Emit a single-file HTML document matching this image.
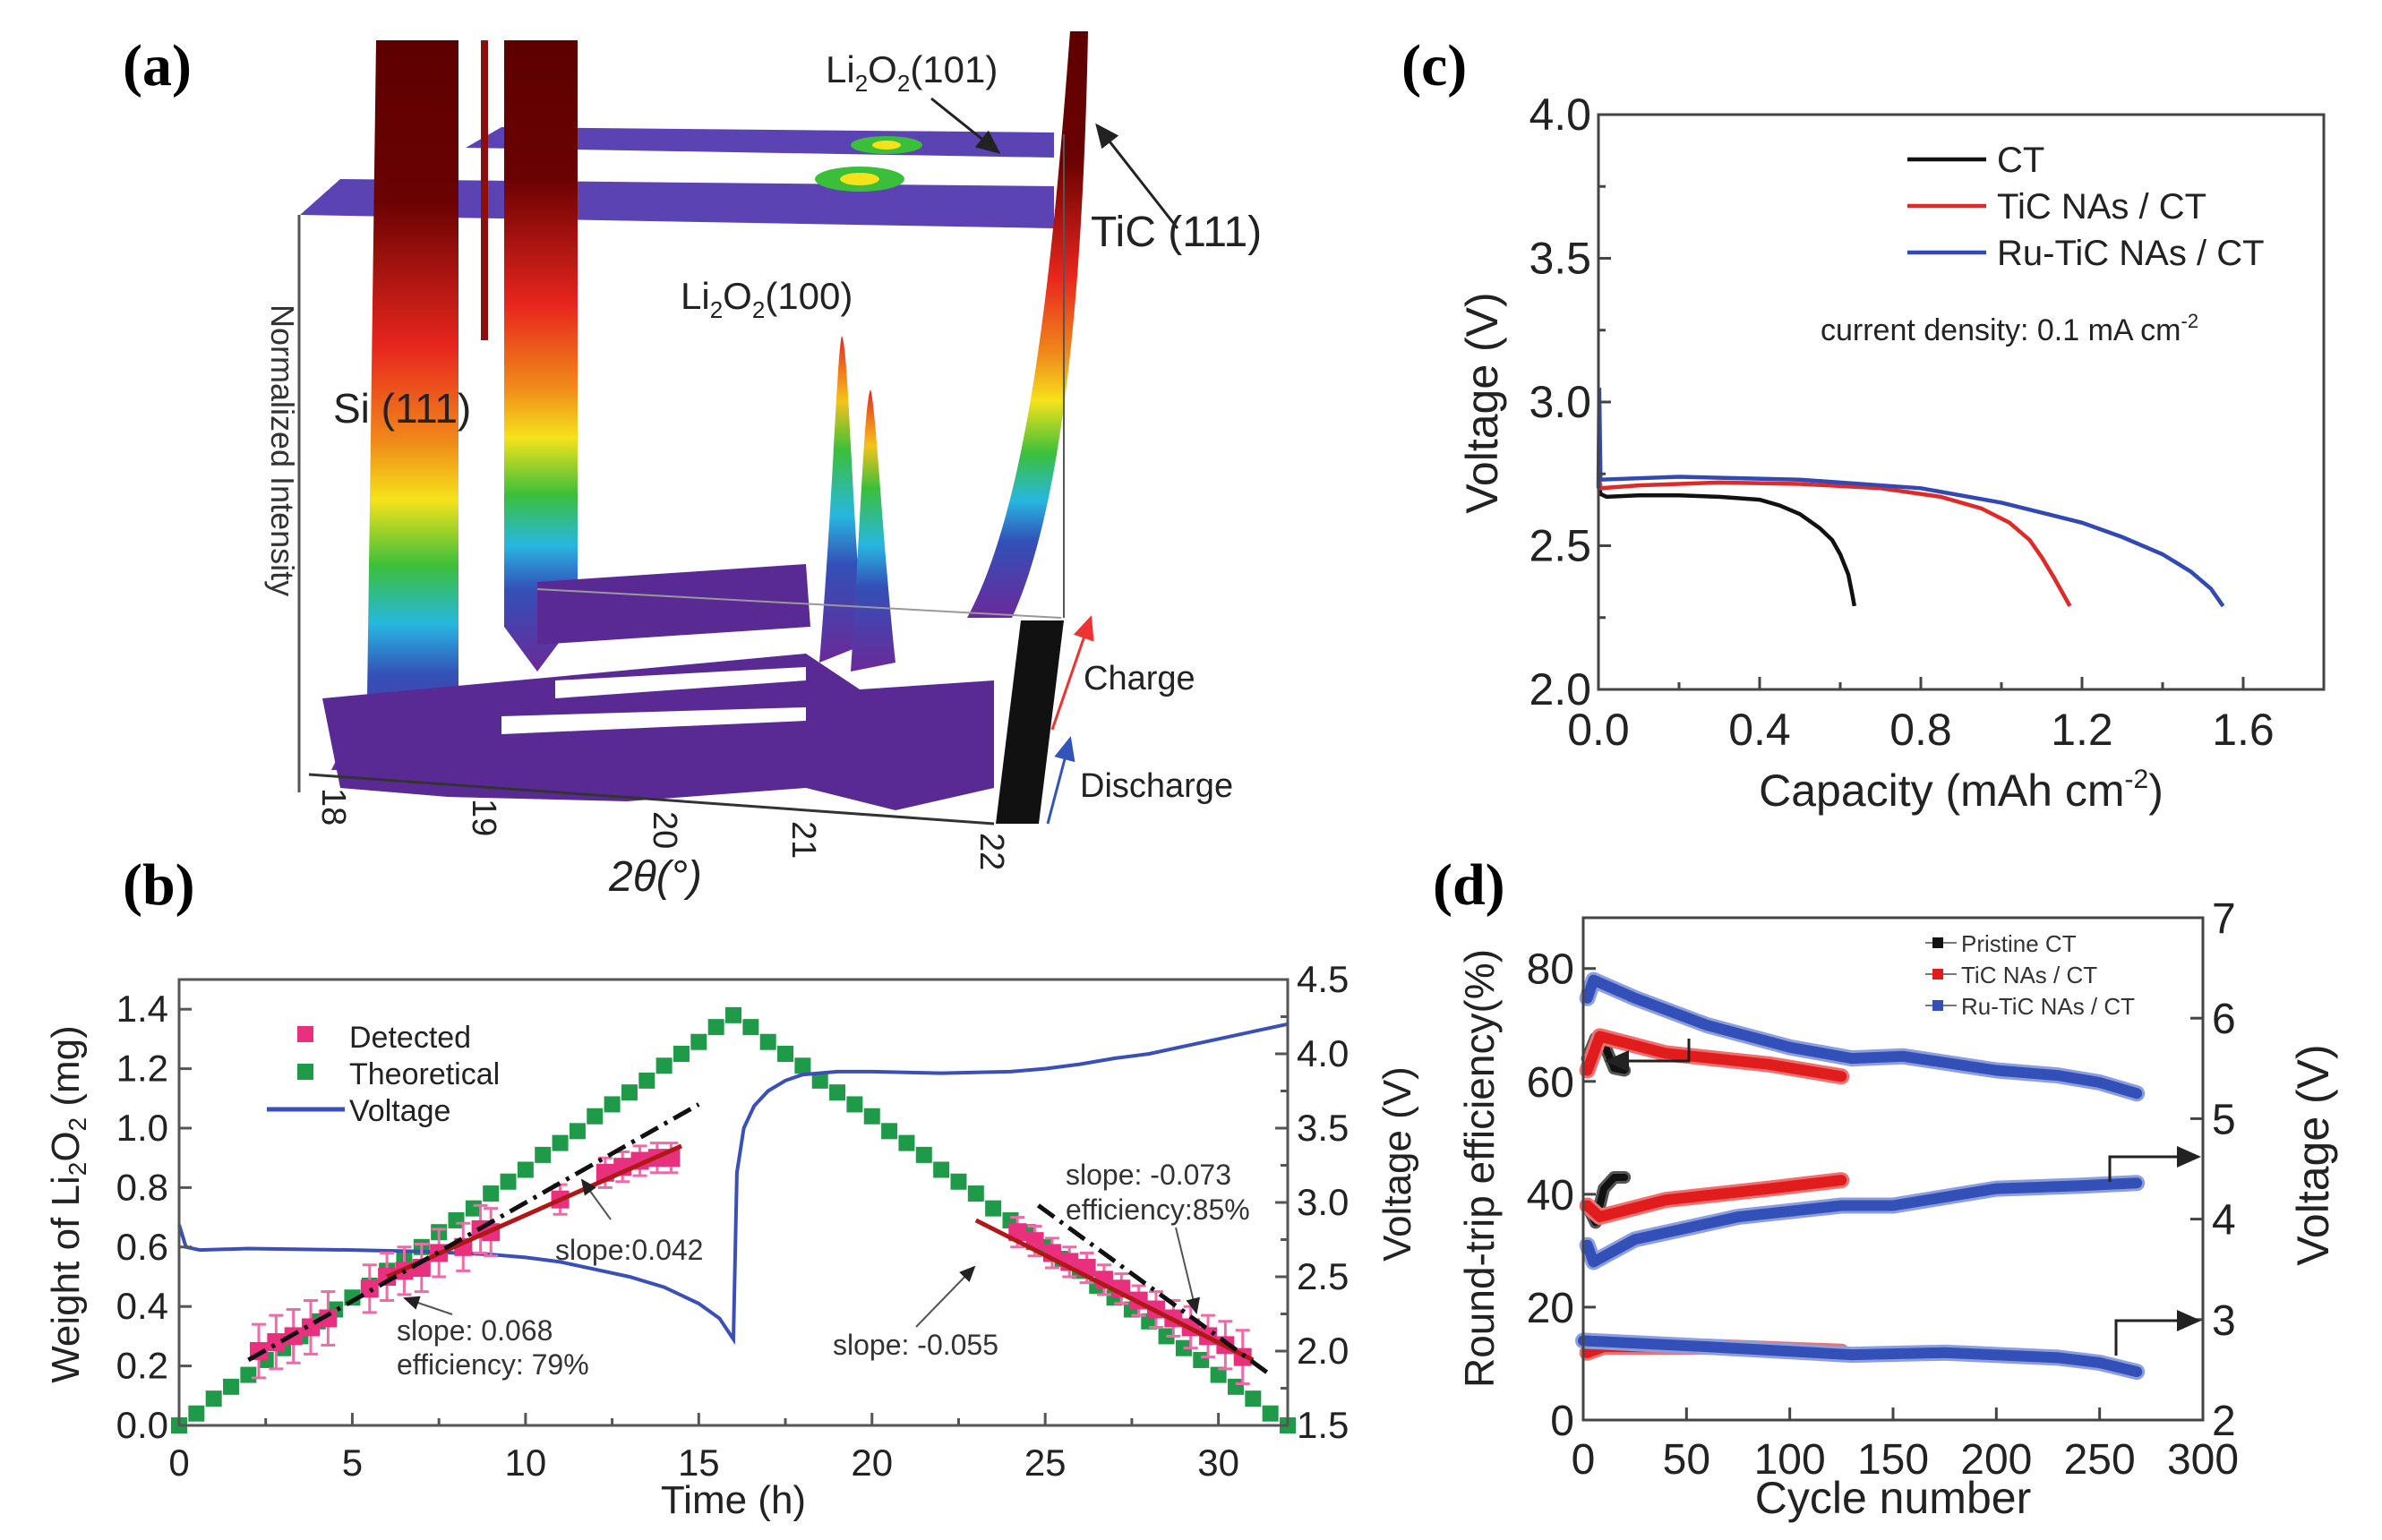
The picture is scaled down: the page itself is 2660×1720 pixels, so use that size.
<!DOCTYPE html>
<html><head><meta charset="utf-8"><style>
html,body{margin:0;padding:0;background:#fff;}
svg{display:block;font-family:"Liberation Sans",sans-serif;}
</style></head><body>
<svg id="fig" width="2660" height="1720" viewBox="0 0 2660 1720" xmlns="http://www.w3.org/2000/svg">
<defs>
<linearGradient id="rainbow" x1="0" y1="0" x2="0" y2="1">
<stop offset="0" stop-color="#5e0000"/><stop offset="0.22" stop-color="#6a0202"/>
<stop offset="0.42" stop-color="#e8261e"/><stop offset="0.55" stop-color="#f08a1a"/>
<stop offset="0.63" stop-color="#f5e21a"/><stop offset="0.72" stop-color="#3bbf3a"/>
<stop offset="0.8" stop-color="#27b7e0"/><stop offset="0.87" stop-color="#3350b8"/>
<stop offset="1" stop-color="#6a2a9a"/></linearGradient>
<linearGradient id="peak" x1="0" y1="0" x2="0" y2="1">
<stop offset="0" stop-color="#e8261e"/><stop offset="0.2" stop-color="#f5c21a"/>
<stop offset="0.35" stop-color="#3bbf3a"/><stop offset="0.55" stop-color="#27b7e0"/>
<stop offset="0.7" stop-color="#3350b8"/><stop offset="1" stop-color="#6a2a9a"/></linearGradient>
<marker id="ah" markerWidth="10" markerHeight="10" refX="8" refY="5" orient="auto"><path d="M0,1 L9,5 L0,9 z" fill="#222"/></marker>
<marker id="ahr" markerWidth="10" markerHeight="10" refX="8" refY="5" orient="auto"><path d="M0,1 L9,5 L0,9 z" fill="#e33"/></marker>
<marker id="ahb" markerWidth="10" markerHeight="10" refX="8" refY="5" orient="auto"><path d="M0,1 L9,5 L0,9 z" fill="#35b"/></marker>
</defs>

<!-- Panel (a) -->
<g id="panelA">
<text x="137" y="95" font-family="Liberation Serif,serif" font-weight="bold" font-size="66">(a)</text>
<polygon points="335,240 380,200 1177,208 1177,255" fill="#5b43b3"/>
<polygon points="520,165 560,142 1177,148 1177,176" fill="#5b43b3"/>
<ellipse cx="960" cy="200" rx="50" ry="14" fill="#3bbf3a"/><ellipse cx="960" cy="200" rx="22" ry="7" fill="#f5e21a"/>
<ellipse cx="990" cy="162" rx="40" ry="10" fill="#3bbf3a"/><ellipse cx="990" cy="162" rx="16" ry="5" fill="#f5e21a"/>
<polygon points="420,45 512,45 512,780 470,860 370,860 410,780" fill="url(#rainbow)"/>
<polygon points="537,45 545,45 545,380 537,380" fill="#8a0f0f"/>
<polygon points="563,45 645,45 645,690 600,750 563,700" fill="url(#rainbow)"/>
<path d="M1195,35 L1215,35 C1210,300 1190,560 1130,690 L1080,690 C1150,560 1175,300 1195,35 z" fill="url(#rainbow)"/>
<path d="M915,740 C930,560 935,390 940,375 C948,390 950,560 965,720 z" fill="url(#peak)"/>
<path d="M950,750 C960,600 965,450 972,435 C978,450 985,600 1000,740 z" fill="url(#peak)"/>
<path d="M600,650 L900,630 L905,700 L600,720 z" fill="#5a2a94"/>
<path d="M360,780 L900,730 L960,770 L1110,760 L1110,880 L1000,905 L900,880 L700,895 L500,890 L380,880 z" fill="#5a2a94"/>
<path d="M620,760 L900,745 L900,760 L620,780 z" fill="#fff"/>
<path d="M560,800 L900,790 L900,805 L560,820 z" fill="#fff"/>
<line x1="334" y1="240" x2="334" y2="885" stroke="#555" stroke-width="3"/>
<line x1="1188" y1="150" x2="1188" y2="690" stroke="#555" stroke-width="2"/>
<line x1="600" y1="658" x2="1185" y2="690" stroke="#999" stroke-width="2"/>
<line x1="345" y1="865" x2="1110" y2="920" stroke="#333" stroke-width="3"/>
<polygon points="1140,693 1188,693 1160,920 1112,920" fill="#111"/>
<g font-size="38" fill="#222">
<text transform="translate(360,880) rotate(90)">18</text>
<text transform="translate(528,892) rotate(90)">19</text>
<text transform="translate(730,906) rotate(90)">20</text>
<text transform="translate(885,917) rotate(90)">21</text>
<text transform="translate(1095,930) rotate(90)">22</text>
</g>
<text x="680" y="995" font-size="48" font-style="italic" fill="#222">2θ(°)</text>
<text transform="translate(303,340) rotate(90)" font-size="36" fill="#333">Normalized Intensity</text>
<text x="372" y="472" font-size="46" fill="#222">Si (111)</text>
<text x="760" y="345" font-size="42" fill="#222">Li<tspan font-size="26" dy="10">2</tspan><tspan dy="-10">O</tspan><tspan font-size="26" dy="10">2</tspan><tspan dy="-10">(100)</tspan></text>
<text x="922" y="92" font-size="42" fill="#222">Li<tspan font-size="26" dy="10">2</tspan><tspan dy="-10">O</tspan><tspan font-size="26" dy="10">2</tspan><tspan dy="-10">(101)</tspan></text>
<text x="1218" y="275" font-size="48" fill="#222">TiC (111)</text>
<line x1="1040" y1="110" x2="1115" y2="170" stroke="#222" stroke-width="3" marker-end="url(#ah)"/>
<line x1="1315" y1="255" x2="1225" y2="140" stroke="#222" stroke-width="3" marker-end="url(#ah)"/>
<line x1="1175" y1="815" x2="1218" y2="690" stroke="#e33" stroke-width="3" marker-end="url(#ahr)"/>
<line x1="1170" y1="920" x2="1195" y2="825" stroke="#35b" stroke-width="3" marker-end="url(#ahb)"/>
<text x="1210" y="770" font-size="38" fill="#222">Charge</text>
<text x="1206" y="890" font-size="38" fill="#222">Discharge</text>
</g>

<g id="panelB"></g>
<g id="panelC"></g>
<g id="panelD"></g>
</svg>
<script>
// ---------- Panel (b) data ----------
var bTheoretical = [0,0.04,0.09,0.13,0.17,0.22,0.26,0.30,0.35,0.39,0.43,0.47,0.52,0.56,0.60,0.65,0.69,0.73,0.78,0.82,0.86,0.91,0.95,0.99,1.04,1.08,1.12,1.16,1.21,1.25,1.29,1.34,1.38,1.34,1.29,1.25,1.21,1.16,1.12,1.08,1.04,0.99,0.95,0.91,0.86,0.82,0.78,0.73,0.69,0.65,0.60,0.56,0.52,0.47,0.43,0.39,0.35,0.30,0.26,0.22,0.17,0.13,0.09,0.04,0];
var bTheoStep = 0.5;
var bDetTime = [2.3,2.8,3.3,3.8,4.3,5.5,6.0,6.5,7.0,7.5,8.2,8.7,9.0,11.0,12.3,12.8,13.3,13.8,14.2,24.2,24.7,25.2,25.7,26.2,26.7,27.2,27.7,28.2,28.7,29.2,29.7,30.2,30.7];
var bDetWeight = [0.25,0.28,0.30,0.33,0.36,0.46,0.50,0.52,0.53,0.58,0.60,0.66,0.65,0.76,0.85,0.87,0.89,0.90,0.90,0.65,0.62,0.58,0.55,0.53,0.49,0.46,0.42,0.39,0.36,0.33,0.30,0.27,0.23];
var bDetErr = [0.09,0.09,0.09,0.09,0.09,0.08,0.08,0.08,0.08,0.08,0.08,0.08,0.08,0.05,0.05,0.05,0.05,0.05,0.05,0.05,0.05,0.05,0.05,0.05,0.05,0.05,0.05,0.06,0.06,0.07,0.07,0.08,0.09];
var bVoltTime = [0,0.2,0.6,2,5,7,9,10,11,12,13,14,15,15.6,16,16.1,16.3,16.6,17,17.5,18,19,20,22,24,25,26,27,28,29,30,31,32];
var bVolt = [2.85,2.7,2.68,2.69,2.68,2.67,2.65,2.63,2.60,2.55,2.50,2.43,2.32,2.22,2.08,3.2,3.5,3.65,3.75,3.82,3.86,3.88,3.88,3.87,3.88,3.9,3.93,3.97,4.0,4.05,4.1,4.15,4.2];
var bXTicks = [0,5,10,15,20,25,30];
var bYTicks = [0.0,0.2,0.4,0.6,0.8,1.0,1.2,1.4];
var bY2Ticks = [1.5,2.0,2.5,3.0,3.5,4.0,4.5];
var bFitDash1 = [[2,0.22],[15,1.08]];
var bFitRed1 = [[6,0.5],[14.5,0.94]];
var bFitRed2 = [[23,0.69],[31,0.22]];
var bFitDash2 = [[24.8,0.74],[31.5,0.17]];

// ---------- Panel (c) data ----------
var cCTcap = [0,0.005,0.02,0.1,0.2,0.3,0.4,0.45,0.5,0.55,0.58,0.6,0.62,0.63,0.635];
var cCTvolt = [2.72,2.68,2.67,2.675,2.675,2.67,2.66,2.64,2.61,2.56,2.52,2.47,2.40,2.33,2.29];
var cTiCcap = [0,0.005,0.1,0.3,0.5,0.7,0.85,0.95,1.02,1.07,1.1,1.13,1.15,1.17];
var cTiCvolt = [2.75,2.70,2.71,2.72,2.715,2.70,2.67,2.63,2.58,2.52,2.46,2.39,2.34,2.29];
var cRucap = [0,0.002,0.005,0.2,0.5,0.8,1.0,1.2,1.3,1.4,1.47,1.52,1.55];
var cRuvolt = [2.70,3.05,2.73,2.74,2.73,2.70,2.65,2.58,2.53,2.47,2.41,2.35,2.29];
var cXTicks = [0.0,0.4,0.8,1.2,1.6];
var cYTicks = [2.0,2.5,3.0,3.5,4.0];

// ---------- Panel (d) data ----------
var dRuCycle = [2,5,25,60,100,130,155,200,230,250,268];
var dRuCharge = [6.2,6.38,6.2,5.93,5.71,5.60,5.62,5.48,5.43,5.36,5.25];
var dRuEffCycle = [2,5,25,75,125,150,200,240,268];
var dRuEff = [31,28,32,36,38,38,41,41.5,42];
var dRuDisCycle = [0,60,130,175,230,250,268];
var dRuDis = [2.79,2.73,2.65,2.67,2.62,2.57,2.48];
var dTiCCycle = [2,8,40,90,125];
var dTiCCharge = [5.48,5.82,5.65,5.54,5.42];
var dTiCEff = [38,36,39,41,42.5];
var dTiCDisCycle = [2,10,60,125];
var dTiCDis = [2.67,2.73,2.73,2.68];
var dPrCycle = [2,6,10,15,20];
var dPrCharge = [5.6,5.8,5.75,5.5,5.48];
var dPrEff = [38,35,41,43,43];
var dXTicks = [0,50,100,150,200,250,300];
var dYTicks = [0,20,40,60,80];
var dY2Ticks = [2,3,4,5,6,7];

var NS = "http://www.w3.org/2000/svg";
function mk(parent, tag, attrs, text){
  var e = document.createElementNS(NS, tag);
  for (var k in attrs) e.setAttribute(k, attrs[k]);
  if (text !== undefined) e.textContent = text;
  parent.appendChild(e);
  return e;
}
function lin(d0,d1,r0,r1){ return function(v){ return r0 + (v-d0)/(d1-d0)*(r1-r0); }; }
function pathFrom(xs, ys, fx, fy){
  var s = "";
  for (var i=0;i<xs.length;i++) s += (i?"L":"M") + fx(xs[i]).toFixed(1) + "," + fy(ys[i]).toFixed(1);
  return s;
}

// ===== Panel B =====
(function(){
  var g = document.getElementById("panelB");
  var L=200,R=1438,T=1094,B=1592;
  var x = lin(0,32,L,R), y = lin(0,1.5,B,T), y2 = lin(1.5,4.5,B,T);
  var t = mk(g,"text",{x:137,y:1010,"font-family":"Liberation Serif,serif","font-weight":"bold","font-size":66});
  t.textContent="(b)";
  
  
  for (var i=0;i<bTheoretical.length;i++){
    var sq = mk(g,"rect",{x:x(i*bTheoStep)-9,y:y(bTheoretical[i])-9,width:18,height:18,fill:"#1f9a48"});
    
    
  }
  var vp = mk(g,"path",{d:pathFrom(bVoltTime,bVolt,x,y2),fill:"none",stroke:"#3b4fb8","stroke-width":4});
  
  
  for (var j=0;j<bDetTime.length;j++){
    var cx=x(bDetTime[j]), cy=y(bDetWeight[j]), e1=y(bDetWeight[j]+bDetErr[j]), e0=y(bDetWeight[j]-bDetErr[j]);
    var eb = mk(g,"path",{d:"M"+cx+","+e1+"V"+e0+"M"+(cx-8)+","+e1+"h16M"+(cx-8)+","+e0+"h16",stroke:"#f06aa8","stroke-width":3,fill:"none"});
    
    
    var dp = mk(g,"rect",{x:cx-10,y:cy-10,width:20,height:20,fill:"#e8307e"});
    
    
  }
  var fits=[[bFitRed1,"#b01818","none"],[bFitRed2,"#b01818","none"],[bFitDash1,"#111","22,8,4,8"],[bFitDash2,"#111","22,8,4,8"]];
  fits.forEach(function(f){
    var fl = mk(g,"line",{x1:x(f[0][0][0]),y1:y(f[0][0][1]),x2:x(f[0][1][0]),y2:y(f[0][1][1]),stroke:f[1],"stroke-width":5,"stroke-dasharray":f[2]});
    
    
  });
  var box = mk(g,"rect",{x:L,y:T,width:R-L,height:B-T,fill:"none",stroke:"#555","stroke-width":3});
  
  
  bXTicks.forEach(function(v){
    mk(g,"line",{x1:x(v),y1:B,x2:x(v),y2:B-14,stroke:"#555","stroke-width":3});
    if (v+2.5 < 32) mk(g,"line",{x1:x(v+2.5),y1:B,x2:x(v+2.5),y2:B-8,stroke:"#555","stroke-width":3});
    var tl = mk(g,"text",{x:x(v),y:B+56,"font-size":42,"text-anchor":"middle",fill:"#222"},String(v));
    
    
  });
  bYTicks.forEach(function(v){
    mk(g,"line",{x1:L,y1:y(v),x2:L+14,y2:y(v),stroke:"#555","stroke-width":3});
    var tl = mk(g,"text",{x:L-12,y:y(v)+14,"font-size":42,"text-anchor":"end",fill:"#222"},v.toFixed(1));
    
    
  });
  bY2Ticks.forEach(function(v){
    mk(g,"line",{x1:R,y1:y2(v),x2:R-14,y2:y2(v),stroke:"#555","stroke-width":3});
    if (v+0.25 < 4.5) mk(g,"line",{x1:R,y1:y2(v+0.25),x2:R-8,y2:y2(v+0.25),stroke:"#555","stroke-width":3});
    var tl = mk(g,"text",{x:R+10,y:y2(v)+14,"font-size":42,fill:"#222"},v.toFixed(1));
    
    
  });
  var xt = mk(g,"text",{x:(L+R)/2,y:1690,"font-size":44,"text-anchor":"middle",fill:"#222"},"Time (h)");
  
  
  var yt = mk(g,"text",{transform:"translate(88,1345) rotate(-90)","font-size":44,"text-anchor":"middle",fill:"#222"});
  yt.innerHTML = 'Weight of Li<tspan font-size="28" dy="8">2</tspan><tspan dy="-8">O</tspan><tspan font-size="28" dy="8">2</tspan><tspan dy="-8"> (mg)</tspan>';
  
  
  var y2t = mk(g,"text",{transform:"translate(1575,1300) rotate(-90)","font-size":44,"text-anchor":"middle",fill:"#222"},"Voltage (V)");
  
  
  var lg = mk(g,"g",{});
  
  
  mk(lg,"rect",{x:332,y:1146,width:18,height:18,fill:"#e8307e"});
  mk(lg,"text",{x:390,y:1170,"font-size":34,fill:"#222"},"Detected");
  mk(lg,"rect",{x:332,y:1188,width:18,height:18,fill:"#1f9a48"});
  mk(lg,"text",{x:390,y:1211,"font-size":34,fill:"#222"},"Theoretical");
  mk(lg,"line",{x1:298,y1:1239,x2:385,y2:1239,stroke:"#3b4fb8","stroke-width":5});
  mk(lg,"text",{x:390,y:1252,"font-size":34,fill:"#222"},"Voltage");
  var ann=[[443,1497,"slope: 0.068"],[443,1535,"efficiency: 79%"],[620,1407,"slope:0.042"],[930,1513,"slope: -0.055"],[1190,1323,"slope: -0.073"],[1190,1362,"efficiency:85%"]];
  ann.forEach(function(a){
    var at = mk(g,"text",{x:a[0],y:a[1],"font-size":32,fill:"#333"},a[2]);
    
    
  });
  [[505,1468,452,1450],[682,1362,650,1318],[1023,1482,1088,1415],[1313,1371,1336,1466]].forEach(function(a){
    var al = mk(g,"line",{x1:a[0],y1:a[1],x2:a[2],y2:a[3],stroke:"#555","stroke-width":2,"marker-end":"url(#ah)"});
    
    
  });
})();

// ===== Panel C =====
(function(){
  var g = document.getElementById("panelC");
  var L=1785,R=2595,T=128,B=770;
  var x = lin(0,1.8,L,R), y = lin(2.0,4.0,B,T);
  var t = mk(g,"text",{x:1565,y:95,"font-family":"Liberation Serif,serif","font-weight":"bold","font-size":66},"(c)");
  
  
  var series=[[cCTcap,cCTvolt,"#111","curve-ct"],[cTiCcap,cTiCvolt,"#e02a2a","curve-tic"],[cRucap,cRuvolt,"#3249b5","curve-ru-tic"]];
  series.forEach(function(s){
    var p = mk(g,"path",{d:pathFrom(s[0],s[1],x,y),fill:"none",stroke:s[2],"stroke-width":4.5});
    
    
  });
  var box = mk(g,"rect",{x:L,y:T,width:R-L,height:B-T,fill:"none",stroke:"#444","stroke-width":3});
  
  
  cXTicks.forEach(function(v){
    mk(g,"line",{x1:x(v),y1:B,x2:x(v),y2:B-14,stroke:"#444","stroke-width":3});
    mk(g,"line",{x1:x(v+0.2),y1:B,x2:x(v+0.2),y2:B-8,stroke:"#444","stroke-width":3});
    var tl = mk(g,"text",{x:x(v),y:B+62,"font-size":50,"text-anchor":"middle",fill:"#222"},v.toFixed(1));
    
    
  });
  cYTicks.forEach(function(v){
    mk(g,"line",{x1:L,y1:y(v),x2:L+14,y2:y(v),stroke:"#444","stroke-width":3});
    if (v+0.25 < 4.0) mk(g,"line",{x1:L,y1:y(v+0.25),x2:L+8,y2:y(v+0.25),stroke:"#444","stroke-width":3});
    var tl = mk(g,"text",{x:L-8,y:y(v)+17,"font-size":50,"text-anchor":"end",fill:"#222"},v.toFixed(1));
    
    
  });
  var xt = mk(g,"text",{x:2190,y:900,"font-size":50,"text-anchor":"middle",fill:"#222"});
  xt.innerHTML='Capacity (mAh cm<tspan font-size="30" dy="-20">-2</tspan><tspan dy="20">)</tspan>';
  
  
  var yt = mk(g,"text",{transform:"translate(1672,450) rotate(-90)","font-size":50,"text-anchor":"middle",fill:"#222"},"Voltage (V)");
  
  
  var lg = mk(g,"g",{});
  
  
  [["CT","#111",178],["TiC NAs / CT","#e02a2a",230],["Ru-TiC NAs / CT","#3249b5",282]].forEach(function(e){
    mk(lg,"line",{x1:2130,y1:e[2],x2:2218,y2:e[2],stroke:e[1],"stroke-width":4.5});
    mk(lg,"text",{x:2230,y:e[2]+14,"font-size":40,fill:"#222"},e[0]);
  });
  var cd = mk(g,"text",{x:2033,y:380,"font-size":34,fill:"#222"});
  cd.innerHTML='current density: 0.1 mA cm<tspan font-size="22" dy="-14">-2</tspan>';
  
  
})();

// ===== Panel D =====
(function(){
  var g = document.getElementById("panelD");
  var L=1768,R=2460,T=1025,B=1586;
  var x = lin(0,300,L,R), y = lin(0,89,B,T), y2 = lin(2,7,B,T);
  var t = mk(g,"text",{x:1600,y:1010,"font-family":"Liberation Serif,serif","font-weight":"bold","font-size":66},"(d)");
  
  
  function band(xs,ys,fy,c1,c2,w,name){
    var d = pathFrom(xs,ys,x,fy);
    var a = mk(g,"path",{d:d,fill:"none",stroke:c1,"stroke-width":w+6,"stroke-linejoin":"round","stroke-linecap":"round"});
    
    
    mk(g,"path",{d:d,fill:"none",stroke:c2,"stroke-width":w,"stroke-linejoin":"round","stroke-linecap":"round"});
  }
  band(dPrCycle,dPrCharge,y2,"#555","#111",8,"pristine-charge");
  band(dPrCycle,dPrEff,y,"#555","#111",8,"pristine-efficiency");
  band(dTiCCycle,dTiCCharge,y2,"#f07070","#e01c1c",12,"tic-charge");
  band(dTiCCycle,dTiCEff,y,"#f07070","#e01c1c",12,"tic-efficiency");
  band(dTiCDisCycle,dTiCDis,y2,"#f07070","#e01c1c",12,"tic-discharge");
  band(dRuCycle,dRuCharge,y2,"#8c9ede","#3350b8",12,"ru-tic-charge");
  band(dRuEffCycle,dRuEff,y,"#8c9ede","#3350b8",12,"ru-tic-efficiency");
  band(dRuDisCycle,dRuDis,y2,"#8c9ede","#3350b8",12,"ru-tic-discharge");
  var box = mk(g,"rect",{x:L,y:T,width:R-L,height:B-T,fill:"none",stroke:"#444","stroke-width":3});
  
  
  dXTicks.forEach(function(v){
    mk(g,"line",{x1:x(v),y1:B,x2:x(v),y2:B-14,stroke:"#444","stroke-width":3});
    var tl = mk(g,"text",{x:x(v),y:B+60,"font-size":48,"text-anchor":"middle",fill:"#222"},String(v));
    
    
  });
  dYTicks.forEach(function(v){
    mk(g,"line",{x1:L,y1:y(v),x2:L+14,y2:y(v),stroke:"#444","stroke-width":3});
    var tl = mk(g,"text",{x:L-10,y:y(v)+17,"font-size":48,"text-anchor":"end",fill:"#222"},String(v));
    
    
  });
  dY2Ticks.forEach(function(v){
    mk(g,"line",{x1:R,y1:y2(v),x2:R-14,y2:y2(v),stroke:"#444","stroke-width":3});
    var tl = mk(g,"text",{x:R+10,y:y2(v)+17,"font-size":48,fill:"#222"},String(v));
    
    
  });
  var xt = mk(g,"text",{x:2114,y:1690,"font-size":50,"text-anchor":"middle",fill:"#222"},"Cycle number");
  
  
  var yt = mk(g,"text",{transform:"translate(1668,1305) rotate(-90)","font-size":46,"text-anchor":"middle",fill:"#222"},"Round-trip efficiency(%)");
  
  
  var y2t = mk(g,"text",{transform:"translate(2600,1290) rotate(-90)","font-size":50,"text-anchor":"middle",fill:"#222"},"Voltage (V)");
  
  
  var lg = mk(g,"g",{});
  
  
  [["Pristine CT","#111",1053],["TiC NAs / CT","#e01c1c",1088],["Ru-TiC NAs / CT","#3350b8",1123]].forEach(function(e){
    mk(lg,"line",{x1:2150,y1:e[2],x2:2185,y2:e[2],stroke:"#777","stroke-width":2});
    mk(lg,"rect",{x:2158,y:e[2]-6,width:12,height:12,fill:e[1]});
    mk(lg,"text",{x:2190,y:e[2]+10,"font-size":26,fill:"#333"},e[0]);
  });
  [["M1886,1160 V1185 H1795","left-axis-arrow"],["M2356,1320 V1292 H2455","right-axis-arrow-1"],["M2363,1514 V1475 H2455","right-axis-arrow-2"]].forEach(function(a){
    var ar = mk(g,"path",{d:a[0],fill:"none",stroke:"#222","stroke-width":3,"marker-end":"url(#ah)"});
    
    
  });
})();
</script>
</body></html>
